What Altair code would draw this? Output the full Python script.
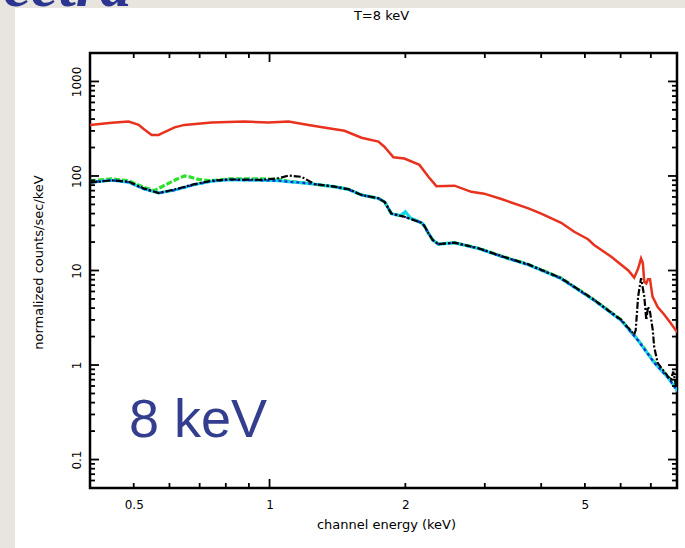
import altair as alt
import pandas as pd

# ---------------- data ----------------
energy_red = [0.40, 0.447, 0.487, 0.513, 0.526, 0.548, 0.568, 0.577, 0.616, 0.648,
              0.744, 0.881, 0.995, 1.102, 1.22, 1.351, 1.466, 1.599, 1.743, 1.797,
              1.882, 1.99, 2.149, 2.25, 2.343, 2.57, 2.8, 2.99, 3.264, 3.747,
              4.0, 4.43, 4.735, 5.08, 5.24, 5.72, 6.24, 6.43, 6.56, 6.66,
              6.72, 6.77, 6.84, 6.9, 6.97, 7.06, 7.25, 7.5, 7.75, 7.95, 8.05]
counts_red = [347, 365, 376, 347, 314, 272, 272, 282, 327, 347,
              367, 376, 367, 376, 347, 320, 301, 254, 231, 204,
              158, 153, 131, 98, 78, 79, 68, 65, 57, 45.5,
              40, 32, 25.7, 21.4, 18.6, 14, 10, 8.4, 10.5, 13.4,
              12, 7.6, 7.3, 8.1, 8.1, 5.3, 4.1, 3.4, 2.76, 2.34, 2.2]

energy_black = [0.40, 0.447, 0.487, 0.526, 0.568, 0.616, 0.682, 0.744, 0.811, 0.96,
                1.047, 1.102, 1.177, 1.258, 1.393, 1.496, 1.599, 1.743, 1.80, 1.862,
                1.99, 2.171, 2.2, 2.25, 2.3, 2.367, 2.57, 2.904, 3.264, 3.747,
                4.43, 5.24, 6.02, 6.43, 6.48, 6.56, 6.66, 6.77, 6.84, 6.9,
                6.97, 7.07, 7.12, 7.25, 7.65, 7.75, 7.85, 7.95, 8.05]
counts_black = [85, 90, 87, 74, 66, 72, 82, 89, 92, 91,
                94.6, 101, 98, 82, 77, 72.5, 63, 58, 53, 40,
                37, 32, 30, 24.8, 21, 19, 19.7, 17.2, 14.2, 11.6,
                8.3, 4.9, 3.0, 2.1, 2.34, 5.3, 8.3, 5.3, 3.0, 4.15,
                3.66, 2.34, 1.56, 1.05, 0.75, 0.70, 0.85, 0.62, 0.55]

energy_green = [0.40, 0.447, 0.487, 0.526, 0.555, 0.577, 0.63, 0.648, 0.665, 0.696,
                0.744, 0.811, 0.96, 1.047, 1.102, 1.177, 1.258, 1.393, 1.496, 1.599,
                1.743, 1.80, 1.862, 1.95, 2.0, 2.05, 2.171, 2.2, 2.25, 2.3,
                2.367, 2.57, 2.904, 3.264, 3.747, 4.43, 5.24, 6.02, 6.56, 7.12,
                7.65, 8.05]
counts_green = [89, 93, 89, 76, 70, 77, 95, 100, 98, 92,
                89, 93, 93, 92, 88, 85, 82, 77, 72.5, 63,
                58, 53, 40, 38, 41, 36, 32, 30, 24.8, 21,
                19, 19.7, 17.2, 14.2, 11.6, 8.3, 4.9, 3.0, 1.84, 1.08,
                0.75, 0.55]

energy_cyan = [0.40, 0.447, 0.487, 0.526, 0.568, 0.616, 0.682, 0.744, 0.811, 0.96,
               1.047, 1.102, 1.177, 1.258, 1.393, 1.496, 1.599, 1.743, 1.80, 1.862,
               1.95, 2.0, 2.05, 2.171, 2.2, 2.25, 2.3, 2.367, 2.57, 2.904,
               3.264, 3.747, 4.43, 5.24, 6.02, 6.56, 7.12, 7.65, 8.05]
counts_cyan = [86, 90, 86, 73, 66, 71, 81, 88, 91, 90,
               89, 87, 85, 82, 77, 72, 63, 58, 53, 40,
               38, 42, 36, 32, 30, 24.8, 21, 19, 19.6, 17.1,
               14.1, 11.5, 8.2, 4.85, 2.95, 1.82, 1.06, 0.73, 0.52]

energy_blue = [0.40, 0.447, 0.487, 0.526, 0.568, 0.616, 0.682, 0.744, 0.811, 0.96,
               1.047, 1.102, 1.177, 1.258, 1.393, 1.496, 1.599, 1.743, 1.80, 1.862,
               1.99, 2.171, 2.2, 2.25, 2.3, 2.367, 2.57, 2.904, 3.264, 3.747,
               4.43, 5.24, 6.02, 6.56, 7.12, 7.65, 8.05]
counts_blue = [86, 90, 86, 73, 66, 71, 81, 88, 91, 90,
               89, 87, 85, 82, 77, 72, 63, 58, 53, 40,
               37, 32, 30, 24.8, 21, 19, 19.6, 17.1, 14.1, 11.5,
               8.2, 4.85, 2.95, 1.82, 1.06, 0.73, 0.52]

x_label_values = [0.5, 1, 2, 5]
y_label_values = [0.1, 1, 10, 100, 1000]
x_major_ticks = [1]
x_minor_ticks = [0.5, 0.6, 0.7, 0.8, 0.9, 2, 3, 4, 5, 6, 7]
y_major_ticks = [0.1, 1, 10, 100, 1000]
y_minor_ticks = [0.06, 0.07, 0.08, 0.09,
                 0.2, 0.3, 0.4, 0.5, 0.6, 0.7, 0.8, 0.9,
                 2, 3, 4, 5, 6, 7, 8, 9,
                 20, 30, 40, 50, 60, 70, 80, 90,
                 200, 300, 400, 500, 600, 700, 800, 900]

# ---------------- layout ----------------
W, H = 587, 435
PAD = {"left": 90, "top": 53, "right": 8, "bottom": 60}
FONT = "DejaVu Sans"
MARBLE = "#e8e5de"
NAVY = "#343e8f"

xs = alt.Scale(type="log", domain=[0.4, 8.0], nice=False)
ys = alt.Scale(type="log", domain=[0.05, 2000], nice=False)

one = pd.DataFrame({"k": [0]})

x_axis = alt.Axis(values=x_label_values, format="~g", title="channel energy (keV)",
                  grid=False, domain=False, ticks=False, tickSize=0, labelPadding=11,
                  labelFont=FONT, labelFontSize=12, labelColor="black",
                  labelOverlap=False, labelFlush=False,
                  titleFont=FONT, titleFontSize=13, titleFontWeight="normal",
                  titleColor="black", titleX=296, titleY=36, titleBaseline="middle",
                  titleAlign="center")
y_axis = alt.Axis(values=y_label_values, format="~g", title="normalized counts/sec/keV",
                  grid=False, domain=False, ticks=False, tickSize=0, labelPadding=7,
                  labelAngle=270, labelAlign="center", labelBaseline="bottom",
                  labelFont=FONT, labelFontSize=12, labelColor="black",
                  labelOverlap=False, labelFlush=False,
                  titleFont=FONT, titleFontSize=13, titleFontWeight="normal",
                  titleColor="black", titleAngle=270, titleX=-52, titleY=209,
                  titleBaseline="middle", titleAlign="center")

# marble border strips
left_strip = alt.Chart(one).mark_rect(color=MARBLE).encode(
    x=alt.value(-PAD["left"]), x2=alt.value(-PAD["left"] + 15),
    y=alt.value(-PAD["top"]), y2=alt.value(H + PAD["bottom"]))
top_strip = alt.Chart(one).mark_rect(color=MARBLE).encode(
    x=alt.value(-PAD["left"]), x2=alt.value(W + PAD["right"]),
    y=alt.value(-PAD["top"]), y2=alt.value(-PAD["top"] + 8))
slide_title = alt.Chart(one).mark_text(
    text="Spectra", font="Liberation Serif", fontSize=62, fontWeight="bold",
    fontStyle="italic", color="#2c3690", align="right", baseline="alphabetic").encode(
    x=alt.value(131 - PAD["left"]), y=alt.value(6 - PAD["top"]))


def line(E, V, color, width, dash=None, axes=False):
    df = pd.DataFrame({"E": E, "V": V})
    kw = dict(color=color, strokeWidth=width, clip=True)
    if dash:
        kw["strokeDash"] = dash
    return alt.Chart(df).mark_line(**kw).encode(
        x=alt.X("E:Q", scale=xs, axis=x_axis if axes else None),
        y=alt.Y("V:Q", scale=ys, axis=y_axis if axes else None),
        order="E:Q")


red = line(energy_red, counts_red, "#e8321e", 2.5, axes=True)
green = line(energy_green, counts_green, "#2ee02e", 3.2, dash=[6, 2])
cyan = line(energy_cyan, counts_cyan, "#10d8e8", 3.0)
blue = line(energy_blue, counts_blue, "#1a2ad0", 2.2, dash=[3, 3])
black = line(energy_black, counts_black, "#000000", 2.2, dash=[7, 2, 2, 2])


def yticks(vals, x0, x1):
    return alt.Chart(pd.DataFrame({"v": vals})).mark_rule(color="black", strokeWidth=1.8).encode(
        y=alt.Y("v:Q", scale=ys, axis=None), x=alt.value(x0), x2=alt.value(x1))


def xticks(vals, y0, y1):
    return alt.Chart(pd.DataFrame({"v": vals})).mark_rule(color="black", strokeWidth=1.8).encode(
        x=alt.X("v:Q", scale=xs, axis=None), y=alt.value(y0), y2=alt.value(y1))


ticks = [
    yticks(y_major_ticks, 0, 9), yticks(y_minor_ticks, 0, 5),
    yticks(y_major_ticks, W - 9, W), yticks(y_minor_ticks, W - 5, W),
    xticks(x_major_ticks, H - 9, H), xticks(x_minor_ticks, H - 5, H),
    xticks(x_major_ticks, 0, 9), xticks(x_minor_ticks, 0, 5),
]

big_label = alt.Chart(one).mark_text(
    text="8 keV", font="Liberation Sans", fontSize=54, color=NAVY,
    align="left", baseline="alphabetic").encode(
    x=alt.value(129 - PAD["left"]), y=alt.value(437 - PAD["top"]))

plot_title = alt.Chart(one).mark_text(
    text="T=8 keV", font=FONT, fontSize=13, color="black",
    align="center", baseline="alphabetic").encode(
    x=alt.value(381.5 - PAD["left"]), y=alt.value(19.5 - PAD["top"]))

chart = alt.layer(
    left_strip, top_strip, slide_title,
    red, green, cyan, blue, black,
    *ticks, big_label, plot_title
).resolve_axis(
    x="independent", y="independent"
).properties(
    width=W, height=H, padding=PAD,
    autosize=alt.AutoSizeParams(type="none"),
    background="white",
).configure_view(stroke="black", strokeWidth=2.5)

chart.save("out.html", embed_options={"renderer": "svg", "actions": False})
